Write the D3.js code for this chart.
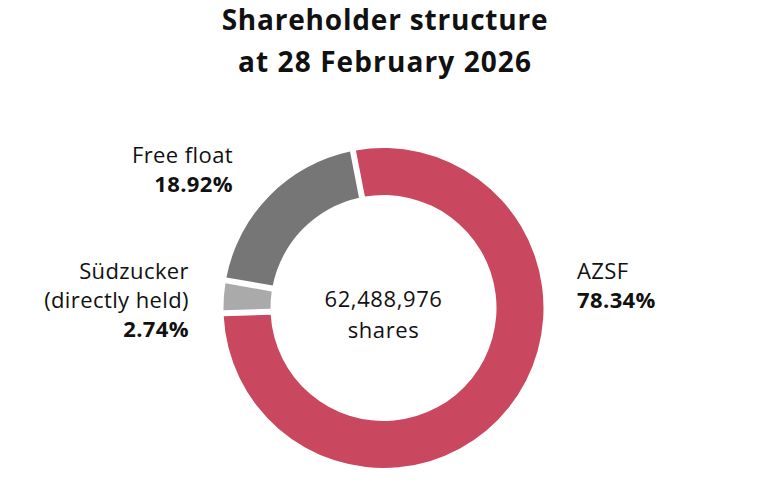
<!DOCTYPE html>
<html>
<head>
<meta charset="utf-8">
<script src="https://cdn.jsdelivr.net/npm/d3@7"></script>
<style>
  body { margin: 0; background: #fff; }
  text { font-family: "Open Sans", "Noto Sans", sans-serif; fill: #111; }
</style>
</head>
<body>
<div id="chart"></div>
<script>
// data
var categories = ["AZSF", "Südzucker (directly held)", "Free float"];
var shares = [78.34, 2.74, 18.92];
var colours = ["#c9485f", "#aaaaaa", "#767676"];
var totalShares = "62,488,976";

var width = 770, height = 483;
var cx = 383.5, cy = 308;
var outerR = 160, innerR = 113;

var svg = d3.select("#chart").append("svg")
    .attr("width", width)
    .attr("height", height);

// title
svg.append("text")
    .attr("x", 385).attr("y", 30)
    .attr("text-anchor", "middle")
    .style("font-size", "28px").style("font-weight", "bold")
    .style("letter-spacing", "0.8px")
    .text("Shareholder structure");
svg.append("text")
    .attr("x", 385).attr("y", 72)
    .attr("text-anchor", "middle")
    .style("font-size", "28px").style("font-weight", "bold")
    .style("letter-spacing", "1.1px")
    .text("at 28 February 2026");

// donut, AZSF starts just left of 12 o'clock
var startA = -11 * Math.PI / 180;
var pie = d3.pie().sort(null)
    .startAngle(startA)
    .endAngle(startA + 2 * Math.PI)
    .padAngle(6 / outerR);

var arc = d3.arc()
    .innerRadius(innerR)
    .outerRadius(outerR)
    .padRadius(outerR);

var g = svg.append("g")
    .attr("transform", "translate(" + cx + "," + cy + ")");

g.selectAll("path")
    .data(pie(shares))
    .enter().append("path")
    .attr("d", arc)
    .style("fill", function (d, i) { return colours[i]; });

// centre text
g.append("text").attr("y", -1).attr("text-anchor", "middle")
    .style("font-size", "22px").style("letter-spacing", "0.6px").text(totalShares);
g.append("text").attr("y", 30).attr("text-anchor", "middle")
    .style("font-size", "22px").style("letter-spacing", "0.6px").text("shares");

// labels
function label(x, y, anchor, lines, pct) {
    var t = svg.append("text").attr("text-anchor", anchor)
        .style("font-size", "22px").style("letter-spacing", "0.4px");
    lines.forEach(function (l, k) {
        t.append("tspan").attr("x", x).attr("y", y + k * 29).text(l);
    });
    t.append("tspan").attr("x", x).attr("y", y + lines.length * 29)
        .style("font-weight", "bold").text(pct);
}
var fmt = function (v) { return v.toFixed(2) + "%"; };
label(577, 279, "start", ["AZSF"], fmt(shares[0]));
label(189, 279, "end", ["Südzucker", "(directly held)"], fmt(shares[1]));
label(233, 163, "end", ["Free float"], fmt(shares[2]));
</script>
</body>
</html>
